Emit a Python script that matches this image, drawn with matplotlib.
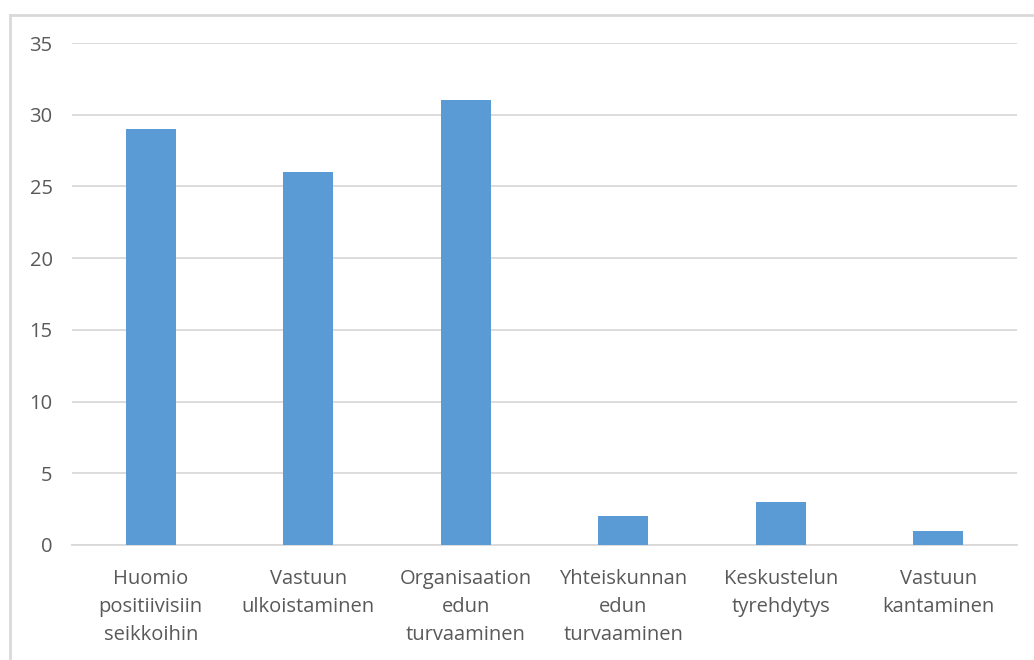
import matplotlib
matplotlib.use("Agg")
import matplotlib.pyplot as plt
from matplotlib.lines import Line2D

categories = ["Huomio\npositiivisiin\nseikkoihin", "Vastuun\nulkoistaminen",
              "Organisaation\nedun\nturvaaminen", "Yhteiskunnan\nedun\nturvaaminen",
              "Keskustelun\ntyrehdytys", "Vastuun\nkantaminen"]
values = [29, 26, 31, 2, 3, 1]

plt.rcParams['font.family'] = ['Open Sans', 'DejaVu Sans']
text_col = '#595959'
grid_col = '#D9D9D9'

fig = plt.figure(figsize=(10.34, 6.6), dpi=100)
ax = fig.add_axes([72/1034, 1 - 545/660, (1017 - 72)/1034, (545 - 43)/660])

x = range(len(values))
ax.bar(x, values, width=0.32, color='#5B9BD5', zorder=3)

ax.set_xlim(-0.5, len(values) - 0.5)
ax.set_ylim(0, 35)
ax.set_yticks(range(0, 36, 5))
ax.set_xticks(list(x))
ax.set_xticklabels(categories, linespacing=1.56)
ax.yaxis.grid(True, color=grid_col, linewidth=1.3, zorder=0)
ax.tick_params(axis='both', length=0, labelsize=14.5, colors=text_col)
ax.tick_params(axis='x', pad=17)
ax.tick_params(axis='y', pad=14)
for s in ['top', 'right', 'left']:
    ax.spines[s].set_visible(False)
ax.spines['bottom'].set_color(grid_col)
ax.spines['bottom'].set_linewidth(1.3)

# chart area border (left and top only visible in the crop)
fig.add_artist(Line2D([9.5/1034, 9.5/1034], [0, 1 - 14.5/660], transform=fig.transFigure,
                      color='#D9D9D9', linewidth=2))
fig.add_artist(Line2D([9.5/1034, 1], [1 - 14.5/660, 1 - 14.5/660], transform=fig.transFigure,
                      color='#D9D9D9', linewidth=2))

fig.savefig("out.png", dpi=100)
